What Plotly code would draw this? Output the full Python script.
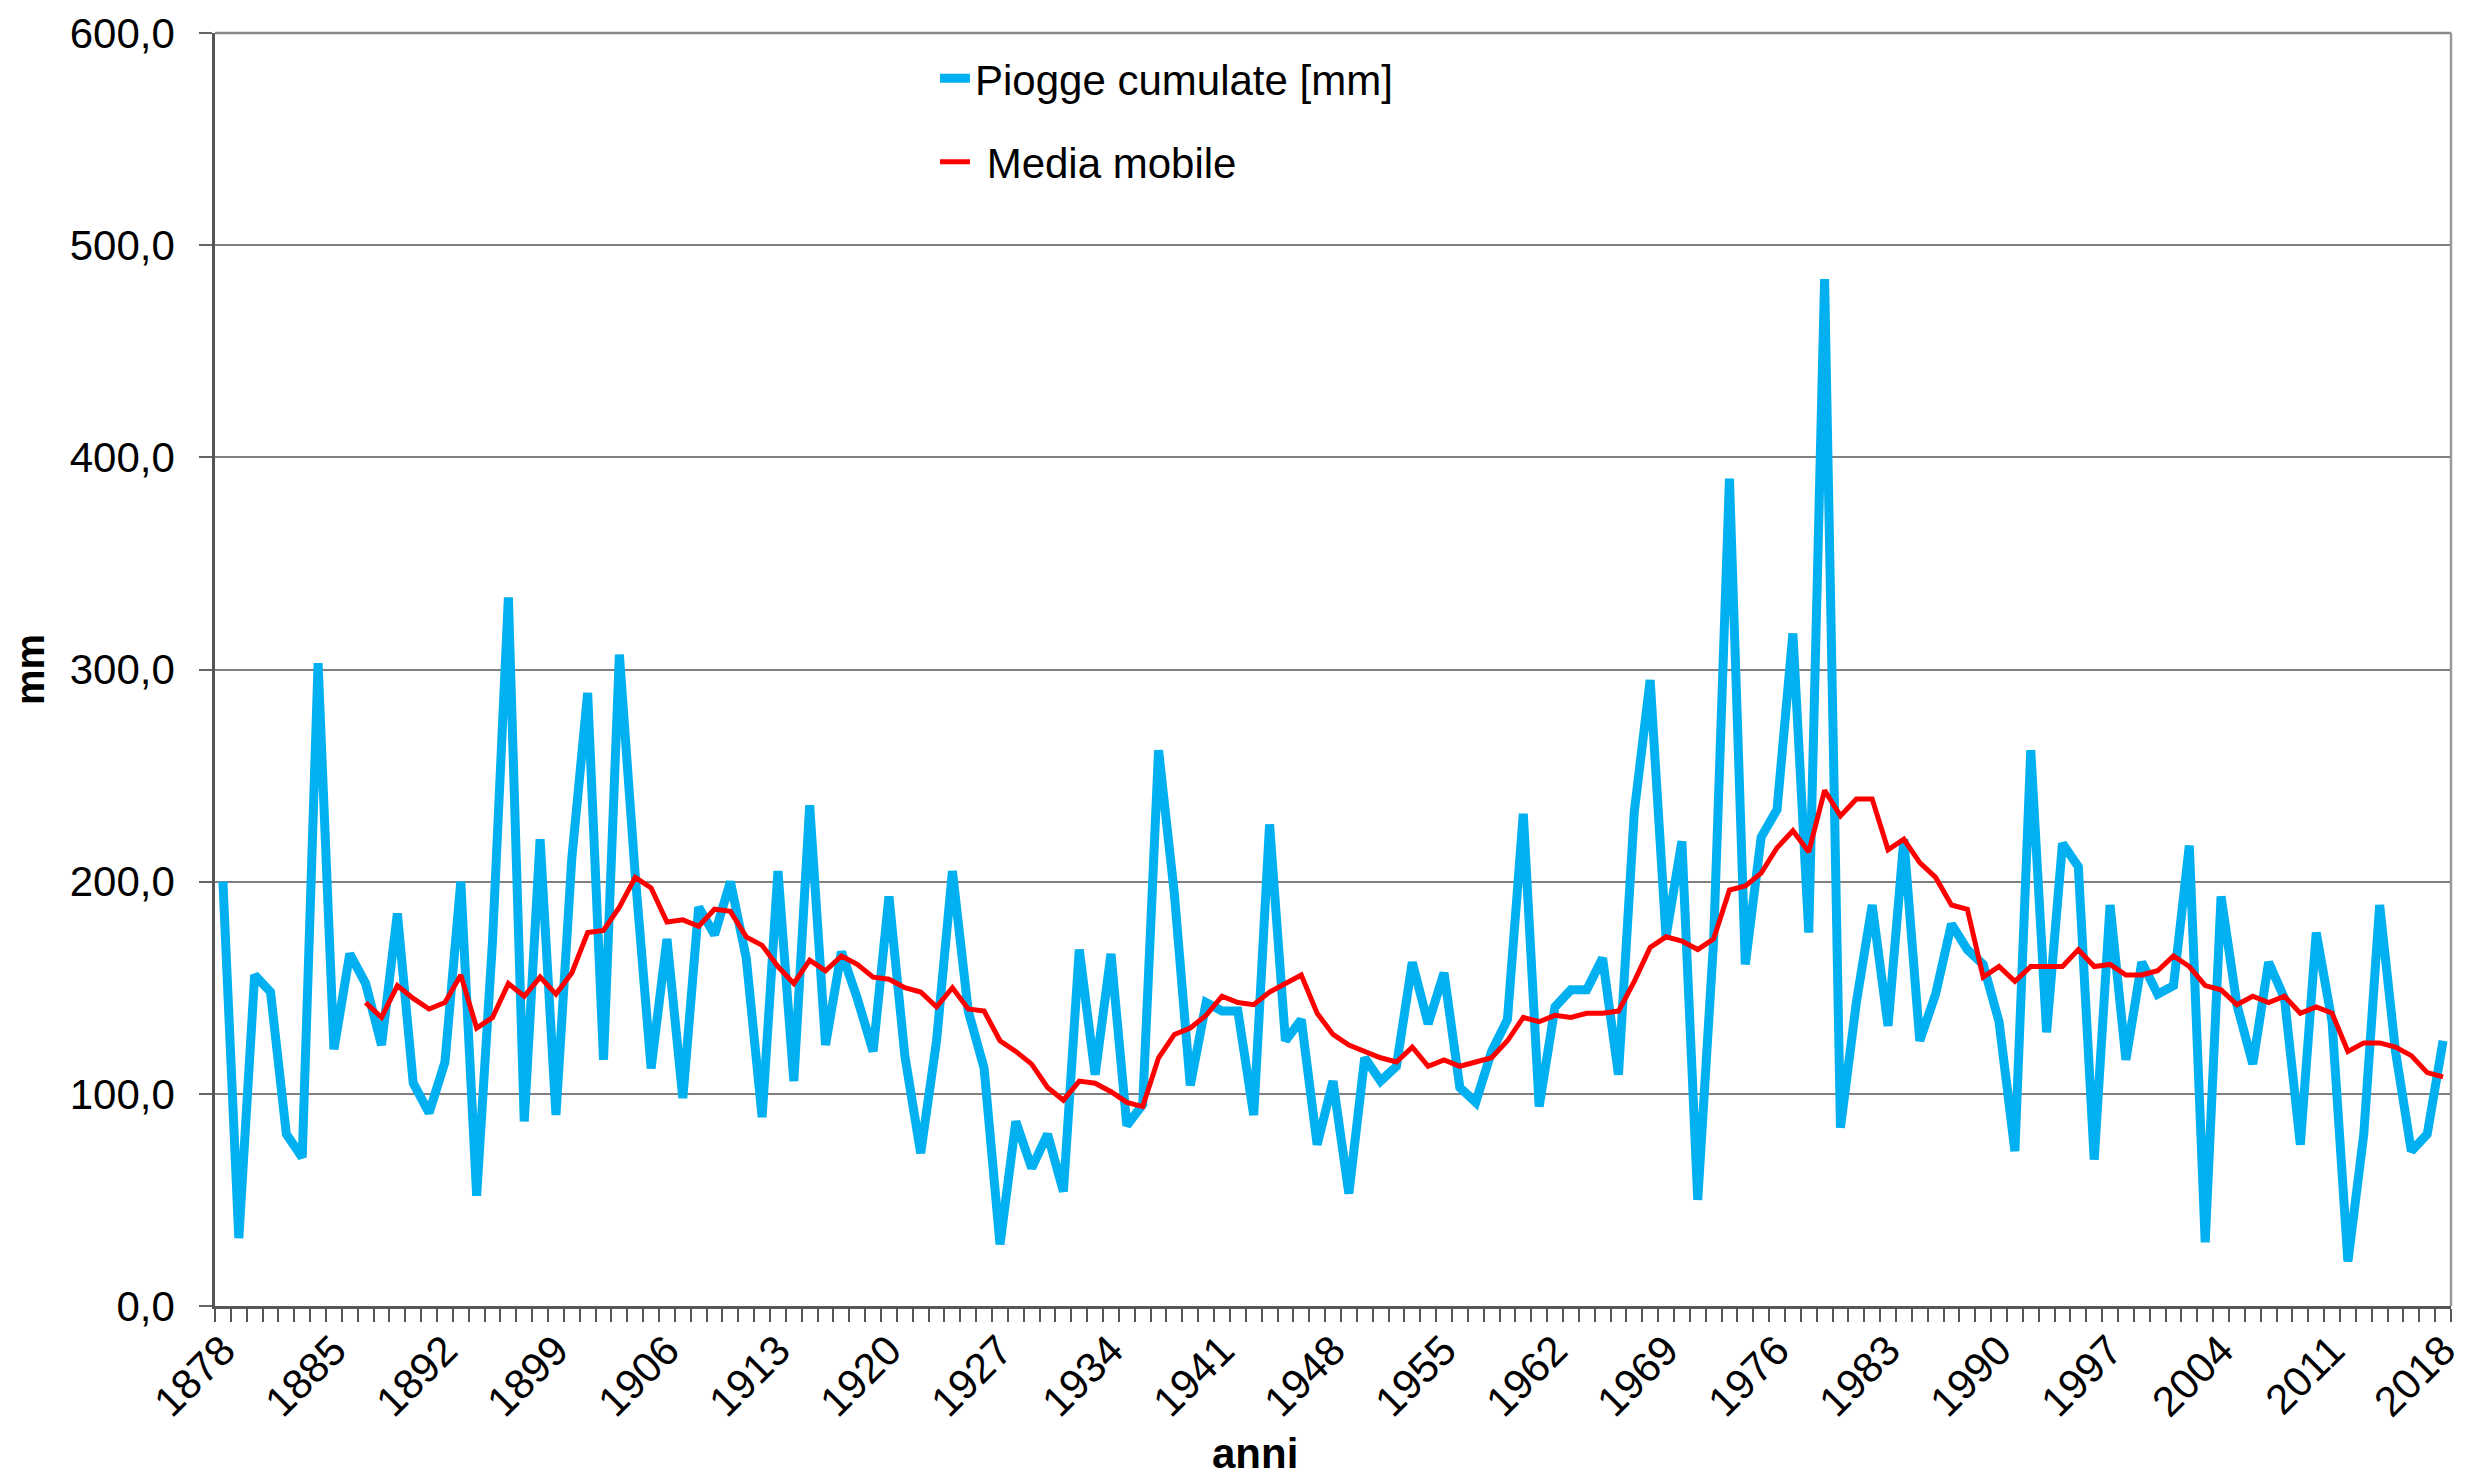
import plotly.graph_objects as go

# anni 1878-2018
ANNI = list(range(1878, 2019))

# piogge cumulate [mm]
PIOGGE = [
    200, 32, 156, 148, 81, 70, 303, 121, 166, 152,
    123, 185, 105, 91, 115, 200, 52, 172, 334, 87,
    220, 90, 211, 289, 116, 307, 203, 112, 173, 98,
    188, 175, 200, 164, 89, 205, 106, 236, 123, 167,
    145, 120, 193, 118, 72, 125, 205, 139, 112, 29,
    87, 65, 81, 54, 168, 109, 166, 85, 95, 262,
    194, 104, 143, 139, 139, 90, 227, 125, 135, 76,
    106, 53, 117, 106, 113, 162, 133, 157, 103, 96,
    120, 135, 232, 94, 141, 149, 149, 164, 109, 233,
    295, 174, 219, 50, 172, 390, 161, 221, 234, 317,
    176, 484, 84, 143, 189, 132, 220, 125, 147, 180,
    168, 161, 134, 73, 262, 129, 218, 207, 69, 189,
    116, 162, 147, 151, 217, 30, 193, 142, 114, 162,
    145, 76, 176, 134, 21, 81, 189, 120, 73, 81,
    125,
]

# media mobile (dal 1887)
ANNI_MM = list(range(1887, 2019))
MEDIA_MOBILE = [
    143, 136, 151, 145, 140, 143, 156, 131, 136, 152,
    146, 155, 147, 157, 176, 177, 188, 202, 197, 181,
    182, 179, 187, 186, 174, 170, 160, 152, 163, 158,
    165, 161, 155, 154, 150, 148, 141, 150, 140, 139,
    125, 120, 114, 103, 97, 106, 105, 101, 96, 94,
    117, 128, 131, 137, 146, 143, 142, 148, 152, 156,
    138, 128, 123, 120, 117, 115, 122, 113, 116, 113,
    115, 117, 125, 136, 134, 137, 136, 138, 138, 139,
    153, 169, 174, 172, 168, 173, 196, 198, 204, 216,
    224, 214, 243, 231, 239, 239, 215, 220, 209, 202,
    189, 187, 155, 160, 153, 160, 160, 160, 168, 160,
    161, 156, 156, 158, 165, 160, 151, 149, 142, 146,
    143, 146, 138, 141, 138, 120, 124, 124, 122, 118,
    110, 108,
]

assert len(ANNI) == len(PIOGGE)
assert len(ANNI_MM) == len(MEDIA_MOBILE)

FONT = "Liberation Sans, Arial, sans-serif"
BLU = "#00B0F0"
ROSSO = "#FF0000"

fig = go.Figure()
fig.add_trace(go.Scatter(x=ANNI, y=PIOGGE, mode="lines", name="Piogge cumulate [mm]",
                         legendgroup="a", line=dict(color=BLU, width=9)))
fig.add_trace(go.Scatter(x=ANNI_MM, y=MEDIA_MOBILE, mode="lines",
                         name="\u00a0Media mobile", legendgroup="b",
                         line=dict(color=ROSSO, width=5)))

# la pagina ha 8px di margine nel body: figura un po' più piccola
fig.update_layout(
    width=2468, height=1475,
    margin=dict(l=207, r=25, t=25, b=177),
    paper_bgcolor="white", plot_bgcolor="white",
    font=dict(family=FONT, size=42, color="black"),
    separators=",.",
    legend=dict(x=0.322, y=0.991, xanchor="left", yanchor="top",
                bgcolor="rgba(0,0,0,0)", traceorder="grouped",
                tracegroupgap=26, font=dict(size=42)),
)
fig.update_xaxes(
    automargin=False,
    range=[1877.5, 2018.5], tickmode="linear", tick0=1878, dtick=7,
    tickangle=-45, ticks="", showgrid=False,
    minor=dict(tick0=1877.5, dtick=1, ticks="outside", ticklen=13,
               tickcolor="#555555", tickwidth=1.5, showgrid=False),
    showline=True, linecolor="#555555", linewidth=2.5, mirror=False,
    zeroline=False,
)
fig.update_yaxes(
    automargin=False, ticklabeloverflow="allow",
    range=[0, 600], dtick=100, tickformat=".1f",
    ticks="outside", ticklen=13, tickcolor="#666666", tickwidth=1.5,
    ticklabelstandoff=16,
    showgrid=True, gridcolor="#808080", gridwidth=1.5,
    showline=True, linecolor="#555555", linewidth=2.5,
    title=dict(text="<b>mm</b>", font=dict(size=40), standoff=18),
    zeroline=False,
)
# titolo asse x, spostato a sinistra come nell'originale
fig.add_annotation(text="<b>anni</b>", xref="paper", yref="paper",
                   x=0.465, y=-0.116, xanchor="center", yanchor="middle",
                   showarrow=False, font=dict(size=42))
# bordo superiore e destro dell'area del grafico
fig.add_shape(type="line", xref="paper", yref="paper", x0=0, x1=1, y0=1, y1=1,
              line=dict(color="#888888", width=2.5))
fig.add_shape(type="line", xref="paper", yref="paper", x0=1, x1=1, y0=0, y1=1,
              line=dict(color="#999999", width=2.5))

fig.write_html("out.html")
